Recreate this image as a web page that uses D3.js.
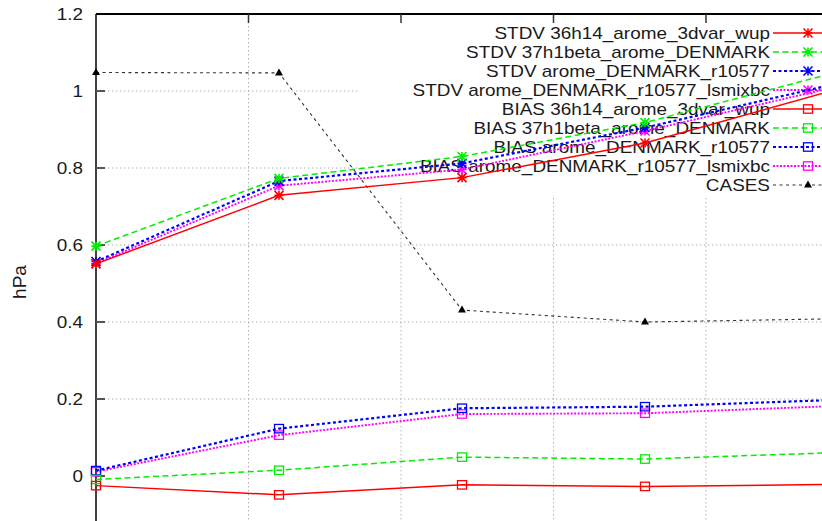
<!DOCTYPE html>
<html>
<head>
<meta charset="utf-8">
<script src="https://cdn.jsdelivr.net/npm/d3@7"></script>
<style>
  html, body { margin: 0; padding: 0; background: #fff; overflow: hidden; }
  svg { display: block; }
  text { font-family: "Liberation Sans", Arial, sans-serif; fill: #1a1a1a; }
</style>
</head>
<body>
<svg id="chart" width="822" height="521"></svg>
<script>
// Forecast lead times (hours) and x grid ticks
const leadTimes = [0, 6, 12, 18, 24];
const xTicks = [0, 5, 10, 15, 20, 25];
const yTicks = [0, 0.2, 0.4, 0.6, 0.8, 1.0, 1.2];
const yTickLabels = ["0", "0.2", "0.4", "0.6", "0.8", "1", "1.2"];

// Surface pressure scores (hPa)
const stdv36h14 = [0.551, 0.729, 0.775, 0.865, 0.998];
const stdv37h1beta = [0.597, 0.773, 0.830, 0.918, 1.043];
const stdvR10577 = [0.557, 0.766, 0.812, 0.905, 1.014];
const stdvLsmixbc = [0.552, 0.754, 0.796, 0.896, 1.006];
const bias36h14 = [-0.025, -0.049, -0.023, -0.027, -0.022];
const bias37h1beta = [-0.009, 0.015, 0.049, 0.044, 0.060];
const biasR10577 = [0.014, 0.123, 0.176, 0.180, 0.197];
const biasLsmixbc = [0.011, 0.106, 0.161, 0.163, 0.181];
const cases = [1.048, 1.047, 0.431, 0.400, 0.408];

const seriesNames = [
  "STDV 36h14_arome_3dvar_wup",
  "STDV 37h1beta_arome_DENMARK",
  "STDV arome_DENMARK_r10577",
  "STDV arome_DENMARK_r10577_lsmixbc",
  "BIAS 36h14_arome_3dvar_wup",
  "BIAS 37h1beta_arome_DENMARK",
  "BIAS arome_DENMARK_r10577",
  "BIAS arome_DENMARK_r10577_lsmixbc",
  "CASES"
];
const seriesValues = [stdv36h14, stdv37h1beta, stdvR10577, stdvLsmixbc,
                      bias36h14, bias37h1beta, biasR10577, biasLsmixbc, cases];

// Styles: colour, dash, width, marker
const styles = [
  { color: "#ff0000", dash: null,       width: 1.5, marker: "star" },
  { color: "#00ee00", dash: "6,3.5",    width: 1.5, marker: "star" },
  { color: "#0000ff", dash: "3,2.5",    width: 2.2, marker: "star" },
  { color: "#ff00ff", dash: "2,1.5",    width: 1.9, marker: "star" },
  { color: "#ff0000", dash: null,       width: 1.5, marker: "square" },
  { color: "#00ee00", dash: "6,3.5",    width: 1.5, marker: "square" },
  { color: "#0000ff", dash: "3,2.5",    width: 2.2, marker: "square" },
  { color: "#ff00ff", dash: "2,1.5",    width: 1.9, marker: "square" },
  { color: "#333333", dash: "3,3.5",    width: 1.1, marker: "triangle" }
];

const svg = d3.select("#chart");
const W = 822, H = 521;
const plotLeft = 96, plotTop = 14;
const sx = 1.183; // horizontal text stretch

const x = d3.scaleLinear().domain([0, 30]).range([plotLeft, plotLeft + 915]);
const y = d3.scaleLinear().domain([-0.2, 1.2]).range([553, plotTop]);

const root = svg.append("g");

// Grid
const grid = root.append("g");
grid.selectAll("line.gy").data(yTicks.filter(v => v > 0 && v < 1.2)).join("line")
  .attr("x1", plotLeft).attr("x2", W + 50)
  .attr("y1", d => y(d)).attr("y2", d => y(d))
  .attr("stroke", "#a8a8a8").attr("stroke-width", 1)
  .attr("stroke-dasharray", "1.3,2.7");
grid.selectAll("line.gx").data(xTicks.filter(v => v > 0)).join("line")
  .attr("x1", d => x(d)).attr("x2", d => x(d))
  .attr("y1", plotTop).attr("y2", H + 10)
  .attr("stroke", "#a8a8a8").attr("stroke-width", 1)
  .attr("stroke-dasharray", "1.3,2.7");

// Opaque key box
const keyLeft = 360, keyBottom = 195;
root.append("rect").attr("x", keyLeft).attr("y", plotTop + 1)
  .attr("width", W - keyLeft + 50).attr("height", keyBottom - plotTop - 1)
  .attr("fill", "#fff");

// Axis lines
root.append("line").attr("x1", plotLeft).attr("x2", W + 50).attr("y1", plotTop).attr("y2", plotTop)
  .attr("stroke", "#000").attr("stroke-width", 2);
root.append("line").attr("x1", plotLeft).attr("x2", plotLeft).attr("y1", plotTop).attr("y2", H + 10)
  .attr("stroke", "#000").attr("stroke-width", 1.5);

// Y ticks and labels
root.selectAll("line.ytick").data(yTicks.filter(v => v < 1.2)).join("line")
  .attr("x1", plotLeft).attr("x2", plotLeft + 9)
  .attr("y1", d => y(d)).attr("y2", d => y(d))
  .attr("stroke", "#555").attr("stroke-width", 2);
root.selectAll("text.ylab").data(yTicks).join("text")
  .attr("transform", d => `translate(83,${y(d)}) scale(${sx},1)`)
  .attr("text-anchor", "end").attr("dy", "0.36em")
  .style("font-size", "16px")
  .text((d, i) => yTickLabels[i]);

// Top mirrored x ticks
root.selectAll("line.xtick").data(xTicks.filter(v => v > 0)).join("line")
  .attr("x1", d => x(d)).attr("x2", d => x(d))
  .attr("y1", plotTop).attr("y2", plotTop + 9)
  .attr("stroke", "#333").attr("stroke-width", 1.5);

// Y axis title
root.append("text")
  .attr("transform", "translate(26,282) rotate(-90)")
  .attr("text-anchor", "middle")
  .style("font-size", "19px")
  .text("hPa");

// Markers
function drawMarker(g, type, cx, cy, color) {
  if (type === "star") {
    const r = 4.5;
    g.append("path")
      .attr("d", `M${cx - r},${cy}H${cx + r}M${cx},${cy - r}V${cy + r}` +
                 `M${cx - r},${cy - r}L${cx + r},${cy + r}M${cx - r},${cy + r}L${cx + r},${cy - r}`)
      .attr("stroke", color).attr("stroke-width", 1.6).attr("fill", "none");
  } else if (type === "square") {
    g.append("rect").attr("x", cx - 4.5).attr("y", cy - 4.2)
      .attr("width", 9).attr("height", 8.4)
      .attr("stroke", color).attr("stroke-width", 1.3).attr("fill", "none");
  } else {
    g.append("path")
      .attr("d", `M${cx},${cy - 4.5}L${cx + 4},${cy + 2.5}L${cx - 4},${cy + 2.5}Z`)
      .attr("fill", "#000");
  }
}

// Key
const keyRow0 = 33, keyStep = 19;
const keyTextRight = 770, keySampleL = 773, keySampleR = 843, keyMarkerX = 808;
const key = root.append("g");
seriesNames.forEach((name, i) => {
  const ry = keyRow0 + i * keyStep;
  const st = styles[i];
  key.append("text")
    .attr("transform", `translate(${keyTextRight},${ry}) scale(${sx},1)`)
    .attr("text-anchor", "end").attr("dy", "0.36em")
    .style("font-size", "16px")
    .text(name);
  key.append("line").attr("x1", keySampleL).attr("x2", keySampleR)
    .attr("y1", ry).attr("y2", ry)
    .attr("stroke", st.color).attr("stroke-width", st.width)
    .attr("stroke-dasharray", st.dash);
  drawMarker(key, st.marker, keyMarkerX, ry, st.color);
});

// Series lines and points
const line = d3.line().x((d, i) => x(leadTimes[i])).y(d => y(d));
const plot = root.append("g");
// draw from last to first so the first series sits on top
for (let i = seriesValues.length - 1; i >= 0; i--) {
  const st = styles[i];
  const vals = seriesValues[i];
  plot.append("path").attr("d", line(vals))
    .attr("fill", "none").attr("stroke", st.color)
    .attr("stroke-width", st.width)
    .attr("stroke-dasharray", st.dash);
  const mg = plot.append("g");
  vals.forEach((v, j) => drawMarker(mg, st.marker, x(leadTimes[j]), y(v), st.color));
}
</script>
</body>
</html>
